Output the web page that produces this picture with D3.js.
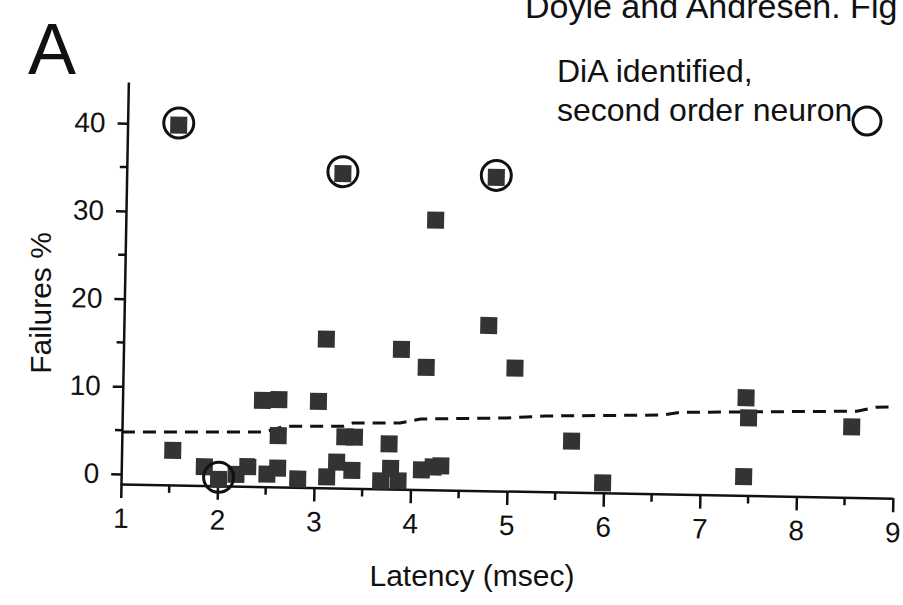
<!DOCTYPE html>
<html>
<head>
<meta charset="utf-8">
<script src="https://cdn.jsdelivr.net/npm/d3@7"></script>
<style>
  body { margin: 0; background: #fff; }
  svg { display: block; }
  text { font-family: "Liberation Sans", Arial, sans-serif; fill: #111; }
</style>
</head>
<body>
<svg id="chart" width="903" height="605"></svg>
<script>

// latency (msec) and failures (%) for each neuron
var latency  = [1.53, 3.24, 4.83, 4.21, 4.78, 3.10, 3.88, 4.14, 5.06, 2.45, 2.62, 3.03, 2.62, 1.53,
                3.31, 3.41, 3.77, 1.86, 2.01, 2.19, 2.31, 2.51, 2.62, 2.83, 3.13, 3.23, 3.39, 3.69,
                3.79, 3.87, 4.11, 4.23, 4.31, 5.66, 5.99, 7.46, 7.49, 7.45, 8.56];
var failures = [39.9, 34.7, 34.6, 29.6, 17.7, 15.8, 14.8, 12.8, 12.9, 8.7, 8.8, 8.7, 4.7, 2.8,
                4.7, 4.7, 4.0, 1.0, -0.4, 0.2, 1.1, 0.3, 1.0, -0.2, 0.1, 1.8, 0.9, -0.25,
                1.2, -0.2, 1.1, 1.45, 1.6, 4.7, 0.0, 10.0, 7.7, 1.0, 6.9];

// DiA identified second order neurons (circled)
var diaLatency  = [1.53, 3.24, 4.83, 2.01];
var diaFailures = [39.9, 34.7, 34.6, -0.4];

// dashed line
var limitLatency  = [1.0, 2.48, 2.69, 3.29, 3.39, 3.88, 4.09, 4.99, 5.38, 6.59, 6.78, 8.61, 8.81, 8.99];
var limitFailures = [4.8, 5.1, 5.8, 5.9, 6.3, 6.4, 6.9, 7.2, 7.5, 7.85, 8.2, 8.7, 9.2, 9.25];

var xTicks = [1, 2, 3, 4, 5, 6, 7, 8, 9];
var xMinor = [1.5, 2.5, 3.5, 4.5, 5.5, 6.5, 7.5, 8.5];
var yTicks = [0, 10, 20, 30, 40];
var yMinor = [5, 15, 25, 35];

var svg = d3.select("#chart");

var x = d3.scaleLinear().domain([1, 9]).range([121, 893]);
var y = d3.scaleLinear().domain([-1.14, 44.7]).range([484, 82]);

// the scanned figure sits a little crooked
var plot = svg.append("g")
  .attr("transform", "rotate(1.05," + x(1) + "," + y(-1.14) + ")");

// x axis
var xAxis = plot.append("g")
  .attr("transform", "translate(0," + y(-1.14) + ")")
  .call(d3.axisBottom(x).tickValues(xTicks).tickSize(14).tickSizeOuter(0).tickPadding(10)
    .tickFormat(d3.format("d")));
xAxis.selectAll(".minor")
  .data(xMinor)
  .enter().append("line")
    .attr("class", "minor")
    .attr("x1", function(d) { return x(d); })
    .attr("x2", function(d) { return x(d); })
    .attr("y2", 8);

// y axis
var yAxis = plot.append("g")
  .attr("transform", "translate(" + x(1) + ",0)")
  .call(d3.axisLeft(y).tickValues(yTicks).tickSize(10).tickSizeOuter(0).tickPadding(12));
yAxis.selectAll(".minor")
  .data(yMinor)
  .enter().append("line")
    .attr("class", "minor")
    .attr("y1", function(d) { return y(d); })
    .attr("y2", function(d) { return y(d); })
    .attr("x2", -7);

plot.selectAll(".domain, line")
  .attr("stroke", "#111")
  .attr("stroke-width", 2.5);
plot.selectAll(".tick text")
  .attr("font-family", "Liberation Sans, Arial, sans-serif")
  .attr("font-size", 28)
  .attr("fill", "#111");

// dashed line
var line = d3.line()
  .x(function(d) { return x(d[0]); })
  .y(function(d) { return y(d[1]); });

plot.append("path")
  .datum(d3.zip(limitLatency, limitFailures))
  .attr("d", line)
  .attr("fill", "none")
  .attr("stroke", "#111")
  .attr("stroke-width", 3)
  .attr("stroke-dasharray", "13,8");

// squares
var size = 17;
plot.append("g")
  .selectAll("rect")
  .data(d3.zip(latency, failures))
  .enter().append("rect")
    .attr("x", function(d) { return x(d[0]) - size / 2; })
    .attr("y", function(d) { return y(d[1]) - size / 2; })
    .attr("width", size)
    .attr("height", size)
    .attr("fill", "#333");

// circles
plot.append("g")
  .selectAll("circle")
  .data(d3.zip(diaLatency, diaFailures))
  .enter().append("circle")
    .attr("cx", function(d) { return x(d[0]); })
    .attr("cy", function(d) { return y(d[1]) - 2; })
    .attr("r", 15)
    .attr("fill", "none")
    .attr("stroke", "#111")
    .attr("stroke-width", 3);

// axis titles
svg.append("text")
  .attr("x", 472)
  .attr("y", 586)
  .attr("text-anchor", "middle")
  .attr("font-size", 30)
  .text("Latency (msec)");

svg.append("text")
  .attr("transform", "translate(51,303) rotate(-90)")
  .attr("text-anchor", "middle")
  .attr("font-size", 30)
  .text("Failures %");

// panel letter and header
svg.append("text")
  .attr("x", 28)
  .attr("y", 74)
  .attr("font-size", 72)
  .text("A");

svg.append("text")
  .attr("x", 525)
  .attr("y", 18)
  .attr("font-size", 34)
  .text("Doyle and Andresen. Fig");

// legend
svg.append("text")
  .attr("x", 557)
  .attr("y", 82)
  .attr("font-size", 32)
  .text("DiA identified,");

svg.append("text")
  .attr("x", 557)
  .attr("y", 121)
  .attr("font-size", 32)
  .text("second order neuron");

svg.append("circle")
  .attr("cx", 867)
  .attr("cy", 121)
  .attr("r", 14)
  .attr("fill", "none")
  .attr("stroke", "#111")
  .attr("stroke-width", 3);

</script>
</body>
</html>
